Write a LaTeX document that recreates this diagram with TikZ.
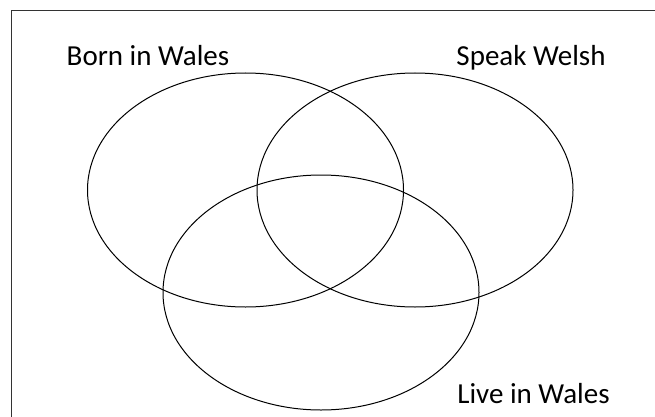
\documentclass[tikz,border=0pt]{standalone}
\usepackage{fontspec}
\setmainfont{Carlito}
\begin{document}
\begin{tikzpicture}[x=1pt,y=-1pt,
  venn/.style={draw=black,line width=1pt},
  frameline/.style={draw=black!80,line width=1pt},
  lbl/.style={anchor=base,inner sep=0pt,font=\fontsize{29}{32}\selectfont}]
\useasboundingbox (0,0) rectangle (655,417);
\draw[frameline] (11,420) -- (11,11) -- (658,11);
\draw[venn] (245.5,190) ellipse [x radius=158, y radius=117];
\draw[venn] (415,190) ellipse [x radius=158, y radius=117];
\draw[venn] (321,292.5) ellipse [x radius=158, y radius=117.5];
\node[lbl] (born) at (148,66) {Born in Wales};
\node[lbl] (speak) at (531,66) {Speak Welsh};
\node[lbl] (live) at (533.5,403) {Live in Wales};
\end{tikzpicture}
\end{document}
